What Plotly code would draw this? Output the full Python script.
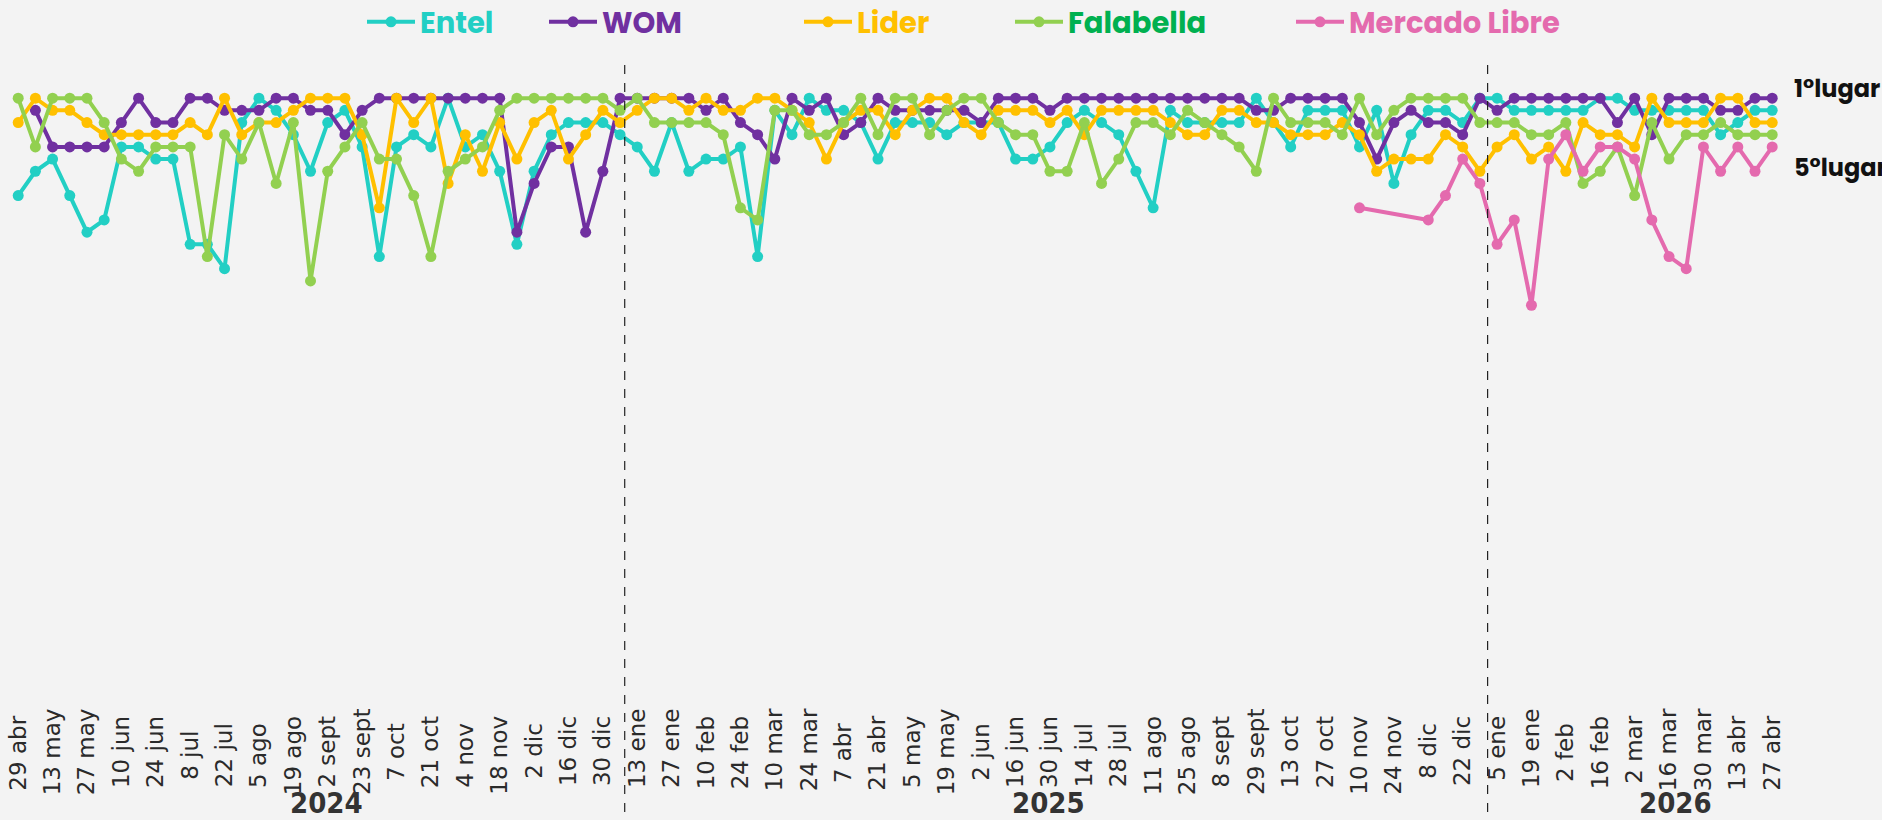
import plotly.graph_objects as go

# etiquetas del eje x (una cada dos semanas)
etiquetas = ["29 abr", "13 may", "27 may", "10 jun", "24 jun", "8 jul", "22 jul", "5 ago", "19 ago",
             "2 sept", "23 sept", "7 oct", "21 oct", "4 nov", "18 nov", "2 dic", "16 dic", "30 dic",
             "13 ene", "27 ene", "10 feb", "24 feb", "10 mar", "24 mar", "7 abr", "21 abr", "5 may",
             "19 may", "2 jun", "16 jun", "30 jun", "14 jul", "28 jul", "11 ago", "25 ago", "8 sept",
             "29 sept", "13 oct", "27 oct", "10 nov", "24 nov", "8 dic", "22 dic",
             "5 ene", "19 ene", "2 feb", "16 feb", "2 mar", "16 mar", "30 mar", "13 abr", "27 abr"]

anios = ["2024", "2025", "2026"]

entel = [9, 7, 6, 9, 12, 11, 5, 5, 6, 6, 13, 13, 15, 3, 1, 2, 4, 7, 3, 2,
         5, 14, 5, 4, 5, 1, 5, 4, 7, 13, 7, 4, 3, 3, 3, 4, 5, 7, 3, 7,
         6, 6, 5, 14, 2, 4, 1, 2, 2, 3, 6, 3, 3, 3, 4, 3, 3, 3, 6, 6,
         5, 3, 2, 3, 4, 7, 10, 2, 3, 3, 3, 3, 1, 3, 5, 2, 2, 2, 5, 2,
         8, 4, 2, 2, 3, 1, 1, 2, 2, 2, 2, 2, 1, 1, 2, 2, 2, 2, 2, 4,
         3, 2, 2]

wom = [None, 2, 5, 5, 5, 5, 3, 1, 3, 3, 1, 1, 2, 2, 2, 1, 1, 2, 2, 4,
       2, 1, 1, 1, 1, 1, 1, 1, 1, 12, 8, 5, 5, 12, 7, 1, 1, 1, 1, 1,
       2, 1, 3, 4, 6, 1, 2, 1, 4, 3, 1, 2, 2, 2, 2, 2, 3, 1, 1, 1,
       2, 1, 1, 1, 1, 1, 1, 1, 1, 1, 1, 1, 2, 2, 1, 1, 1, 1, 3, 6,
       3, 2, 3, 3, 4, 1, 2, 1, 1, 1, 1, 1, 1, 3, 1, 4, 1, 1, 1, 2,
       2, 1, 1]

lider = [3, 1, 2, 2, 3, 4, 4, 4, 4, 4, 3, 4, 1, 4, 3, 3, 2, 1, 1, 1,
         4, 10, 1, 3, 1, 8, 4, 7, 3, 6, 3, 2, 6, 4, 2, 3, 2, 1, 1, 2,
         1, 2, 2, 1, 1, 2, 3, 6, 3, 2, 2, 4, 2, 1, 1, 3, 4, 2, 2, 2,
         3, 2, 4, 2, 2, 2, 2, 3, 4, 4, 2, 2, 3, 3, 4, 4, 4, 3, 4, 7,
         6, 6, 6, 4, 5, 7, 5, 4, 6, 5, 7, 3, 4, 4, 5, 1, 3, 3, 3, 1,
         1, 3, 3]

falabella = [1, 5, 1, 1, 1, 3, 6, 7, 5, 5, 5, 14, 4, 6, 3, 8, 3, 16, 7, 5,
             3, 6, 6, 9, 14, 7, 6, 5, 2, 1, 1, 1, 1, 1, 1, 2, 1, 3, 3, 3,
             3, 4, 10, 11, 2, 2, 4, 4, 3, 1, 4, 1, 1, 4, 2, 1, 1, 3, 4, 4,
             7, 7, 3, 8, 6, 3, 3, 4, 2, 3, 4, 5, 7, 1, 3, 3, 3, 4, 1, 4,
             2, 1, 1, 1, 1, 3, 3, 3, 4, 4, 3, 8, 7, 5, 9, 3, 6, 4, 4, 3,
             4, 4, 4]

mercado_libre = [None] * 78 + [10, None, None, None, 11, 9, 6, 8, 13, 11, 18, 6, 4, 7,
                               5, 5, 6, 11, 14, 15, 5, 7, 5, 7, 5]

x = list(range(len(entel)))

series = [
    ("Entel", entel, "#22cfc4", "#22cfc4"),
    ("WOM", wom, "#7030a0", "#7030a0"),
    ("Lider", lider, "#ffc000", "#ffc000"),
    ("Falabella", falabella, "#92d050", "#00b050"),
    ("Mercado Libre", mercado_libre, "#e46aae", "#e46aae"),
]

# inicio del texto de cada leyenda (pixeles)
leg_txt = [424, 606, 861, 1072, 1353]

W, H = 1882, 820
L, R, T, B = 1, 84, 86, 125
pw = W - L - R
ph = H - T - B


def py(v):
    # pixel vertical -> coordenada paper
    return (H - B - v) / ph


# ancho aproximado (DejaVu Sans, em) para centrar las etiquetas giradas con espacios
anchos = {" ": 0.318, "a": 0.613, "b": 0.635, "c": 0.55, "d": 0.635, "e": 0.615, "f": 0.352,
          "g": 0.635, "i": 0.278, "j": 0.278, "l": 0.278, "m": 0.974, "n": 0.634, "o": 0.612,
          "p": 0.635, "r": 0.411, "s": 0.521, "t": 0.392, "u": 0.634, "v": 0.592, "y": 0.592}
fs_tick = 23


def ancho(t):
    return fs_tick * sum(anchos.get(c, 0.636) for c in t)


w_max = max(ancho(t) for t in etiquetas)
esp = 0.318 * fs_tick
ticktext = [t + "\u00a0" * int(round((w_max - ancho(t)) / 2 / esp)) for t in etiquetas]

fig = go.Figure()
for k, (nombre, vals, col, colt) in enumerate(series):
    lname = "legend" if k == 0 else "legend%d" % (k + 1)
    fig.add_trace(go.Scatter(
        x=x, y=vals, name=nombre, mode="lines+markers",
        line=dict(color=col, width=4),
        marker=dict(color=col, size=11),
        connectgaps=True, legend=lname, cliponaxis=False,
    ))
    fig.update_layout(**{lname: dict(
        x=(leg_txt[k] - 62 - L) / pw, y=py(22), xanchor="left", yanchor="middle",
        orientation="h", bgcolor="rgba(0,0,0,0)", itemwidth=48,
        font=dict(family="Poppins, Inter, sans-serif", size=29, color=colt, weight="bold"),
    )})

# separadores de anio
for xs in [35.27, 85.45]:
    fig.add_shape(type="line", xref="x", yref="paper", x0=xs, x1=xs,
                  y0=py(830), y1=py(62),
                  line=dict(color="#222222", width=1.2, dash="dash"))

for anio, xa in zip(anios, [17.9, 59.9, 96.4]):
    fig.add_annotation(x=xa, xref="x", y=py(803), yref="paper",
                       text=anio, showarrow=False, yanchor="middle",
                       font=dict(family="DejaVu Sans Condensed, Roboto, sans-serif", size=29,
                                 color="#333333", weight="bold"))

for txt, yy in [("1°lugar", 88), ("5°lugar", 168)]:
    fig.add_annotation(x=(1792 - L) / pw, xref="paper", y=py(yy), yref="paper",
                       text=txt, showarrow=False, xanchor="left", yanchor="middle",
                       font=dict(family="Poppins, Inter, sans-serif", size=24, color="#111111", weight="bold"))

fig.update_xaxes(range=[-1, 103.5], tickvals=list(range(0, len(x), 2)), ticktext=ticktext,
                 tickangle=-90, ticklabelstandoff=8, showgrid=False, zeroline=False,
                 showline=False, ticks="", automargin=False,
                 tickfont=dict(family="DejaVu Sans, sans-serif", size=fs_tick, color="#2a2a2a"))
fig.update_yaxes(range=[50, 0], showgrid=False, zeroline=False, showticklabels=False)

fig.update_layout(
    width=W, height=H, margin=dict(l=L, r=R, t=T, b=B, autoexpand=False),
    paper_bgcolor="#f3f3f3", plot_bgcolor="#f3f3f3",
    showlegend=True,
)

fig.write_html("out.html", config={"displayModeBar": False},
               post_script="document.body.style.margin='0px';")
